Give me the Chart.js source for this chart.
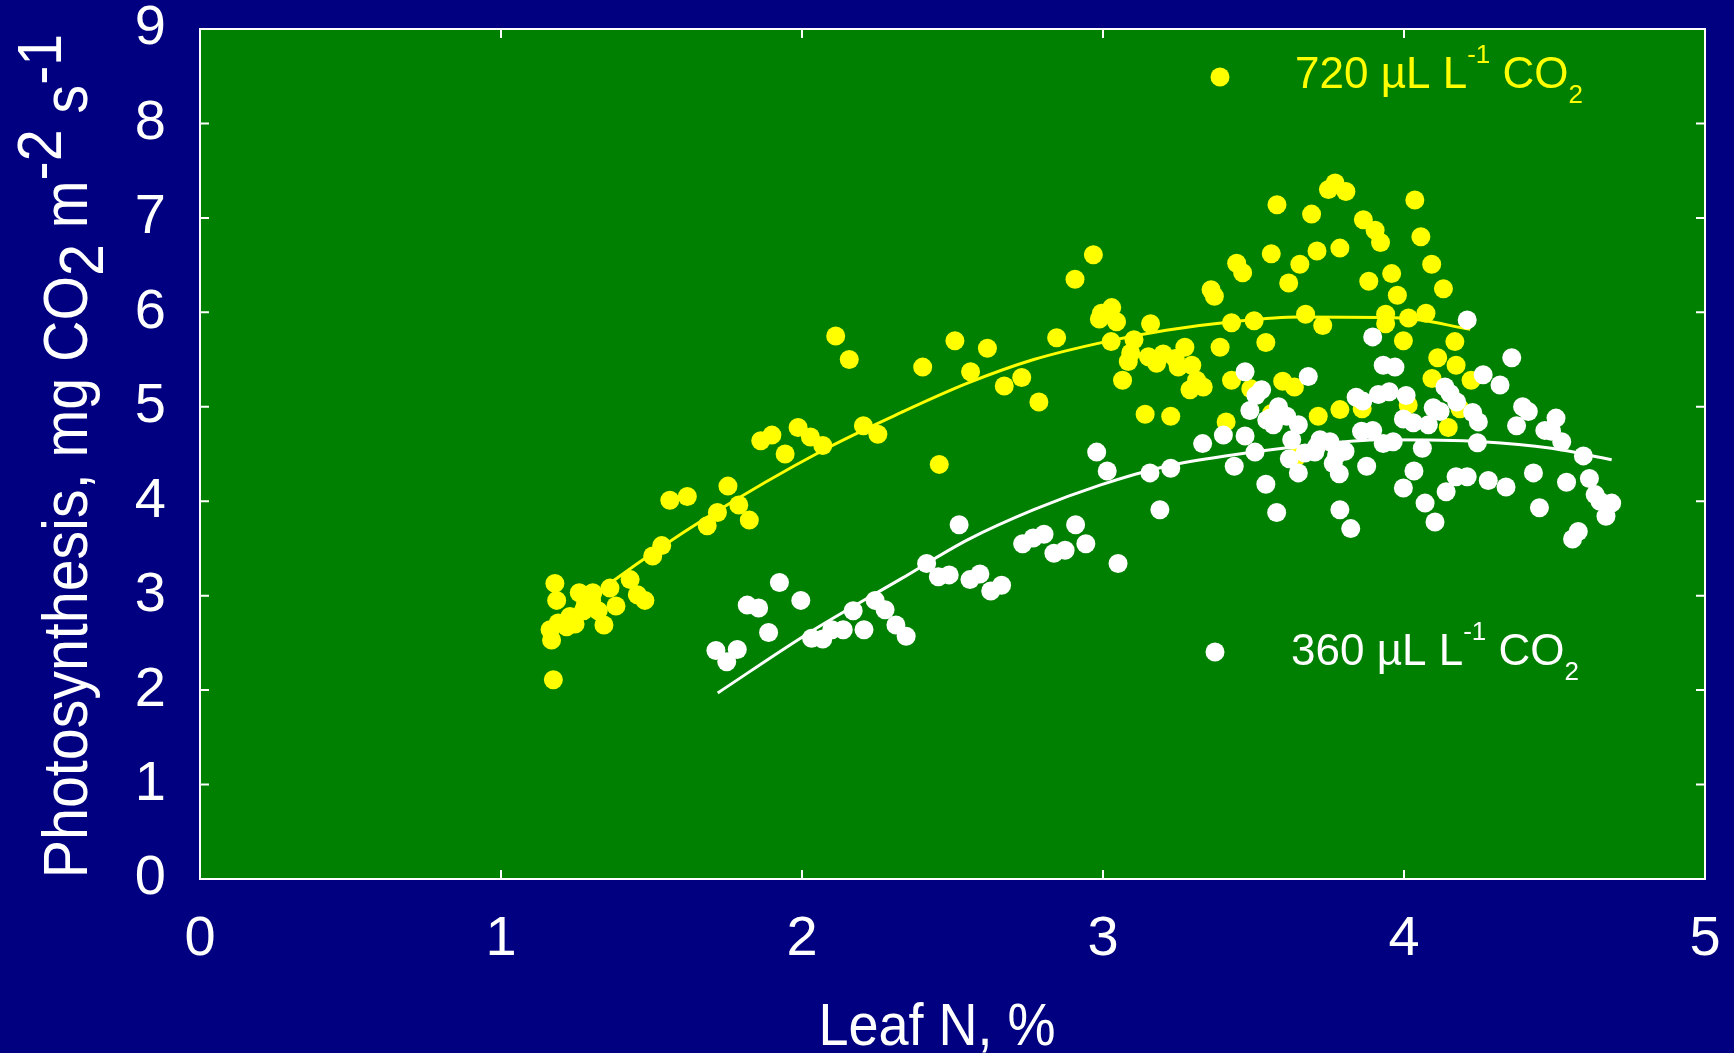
<!DOCTYPE html>
<html><head><meta charset="utf-8">
<script src="https://cdn.jsdelivr.net/npm/chart.js@4/dist/chart.umd.min.js"></script>
<style>html,body{margin:0;padding:0;background:#000080;overflow:hidden}canvas{display:block}</style>
</head><body><canvas id="c" width="1734" height="1053"></canvas>
<script>
// ---- data ----
const xTickLabels = [0, 1, 2, 3, 4, 5];
const yTickLabels = [0, 1, 2, 3, 4, 5, 6, 7, 8, 9];
const xTitle = 'Leaf N, %';
const yTitleParts = [['Photosynthesis, mg CO', 0], ['2', 1], [' m', 0], ['-2', -1], [' s', 0], ['-1', -1]];
const legend720Parts = [['720 µL L', 0], ['-1', -1], [' CO', 0], ['2', 1]];
const legend360Parts = [['360 µL L', 0], ['-1', -1], [' CO', 0], ['2', 1]];

const co2_720_N = [1.179,1.185,1.26,1.305,1.362,1.429,1.453,1.478,1.382,1.342,
 1.323,1.274,1.229,1.246,1.218,1.19,1.163,1.168,1.174,1.279,
 1.301,1.504,1.534,1.561,1.619,1.685,1.719,1.754,1.79,1.825,
 1.863,1.90,1.944,1.987,2.028,2.069,2.112,2.157,2.204,2.252,
 2.401,2.456,2.508,2.56,2.616,2.672,2.73,2.787,2.846,2.907,
 2.968,2.988,2.995,3.029,3.045,3.027,3.103,3.092,3.084,3.065,
 3.14,3.158,3.151,3.178,3.20,3.24,3.25,3.272,3.295,3.311,
 3.333,3.289,3.225,3.359,3.37,3.389,3.409,3.427,3.427,3.444,
 3.464,3.491,3.502,3.541,3.559,3.578,3.597,3.617,3.636,3.654,
 3.673,3.693,3.711,3.715,3.73,3.749,3.771,3.787,3.787,3.807,
 3.861,3.865,3.883,3.904,3.922,3.939,3.939,3.959,3.978,3.998,
 4.014,4.015,4.036,4.056,4.073,4.092,4.093,4.112,4.131,4.147,
 4.169,4.173,4.186,4.223,3.643,3.56];
const co2_720_P = [3.13,2.95,3.03,3.03,3.08,3.17,3.01,2.95,2.89,2.69,
 2.84,2.84,2.78,2.70,2.67,2.71,2.64,2.53,2.11,2.89,
 2.95,3.42,3.53,4.01,4.05,3.74,3.88,4.16,3.96,3.80,
 4.64,4.70,4.50,4.78,4.68,4.59,5.75,5.50,4.80,4.71,
 5.42,4.39,5.70,5.37,5.62,5.22,5.31,5.05,5.73,6.35,
 6.61,5.93,5.99,6.05,5.90,5.69,5.71,5.57,5.48,5.28,
 4.92,5.88,5.53,5.46,5.56,5.51,5.42,5.63,5.44,5.28,
 5.21,5.18,4.90,6.24,6.17,5.63,4.84,5.89,5.28,6.52,
 6.42,5.19,5.91,5.68,6.62,7.14,5.27,6.31,5.21,6.51,
 5.98,7.04,6.65,4.90,5.86,7.30,7.37,6.68,4.97,7.28,
 4.98,6.98,6.33,6.87,6.74,5.98,5.88,6.41,6.18,5.70,
 5.02,5.94,7.19,6.80,5.99,6.51,5.30,5.52,6.25,4.78,
 5.69,5.44,4.98,5.28,4.47,4.93];

const co2_360_N = [1.714,1.785,1.75,1.925,1.818,1.856,1.996,1.889,2.032,2.069,
 2.099,2.137,2.17,2.206,2.243,2.276,2.312,2.346,2.414,2.453,
 2.489,2.522,2.558,2.591,2.627,2.663,2.733,2.768,2.804,2.837,
 2.874,2.909,2.943,2.979,3.014,3.05,3.156,3.189,3.225,3.331,
 3.40,3.436,3.472,3.472,3.488,3.505,3.508,3.527,3.541,3.544,
 3.566,3.577,3.583,3.61,3.619,3.627,3.649,3.649,3.671,3.682,
 3.704,3.71,3.721,3.754,3.765,3.785,3.787,3.797,3.804,3.823,
 3.841,3.859,3.863,3.876,3.896,3.896,3.915,3.931,3.931,3.951,
 3.964,3.97,3.998,3.998,4.007,4.031,4.033,4.061,4.07,4.081,
 4.097,4.103,4.12,4.136,4.14,4.153,4.173,4.175,4.21,4.21,
 4.228,4.244,4.247,4.263,4.28,4.319,4.339,4.358,4.374,4.394,
 4.413,4.43,4.45,4.468,4.49,4.505,4.524,4.54,4.56,4.579,
 4.596,4.616,4.635,4.651,4.671,4.69,3.555,3.776];
const co2_360_P = [2.42,2.43,2.30,3.14,2.90,2.87,2.95,2.61,2.55,2.54,
 2.64,2.64,2.84,2.64,2.95,2.85,2.69,2.57,3.34,3.20,
 3.22,3.75,3.17,3.23,3.05,3.11,3.55,3.61,3.65,3.45,
 3.48,3.75,3.55,4.52,4.32,3.34,4.30,3.91,4.35,4.61,
 4.70,4.37,4.69,5.37,4.96,4.52,5.12,5.18,4.18,4.86,
 4.81,3.88,5.00,4.90,4.45,4.65,4.30,4.81,4.51,5.32,
 4.52,4.58,4.65,4.63,4.40,4.29,3.91,4.54,4.53,3.71,
 5.10,4.74,5.06,4.37,5.74,4.75,5.13,5.44,4.61,5.16,
 4.63,5.42,4.87,4.14,5.12,4.83,4.32,4.56,3.98,4.81,
 4.99,3.78,4.95,5.21,4.10,5.14,4.26,5.05,4.26,5.92,
 4.94,4.62,4.84,5.34,4.22,5.23,4.15,5.52,4.80,5.00,
 4.95,4.30,3.93,4.75,4.74,4.88,4.63,4.20,3.60,3.68,
 4.48,4.24,4.07,4.00,3.84,3.98,4.88,4.49];

// fitted curves
const fit720_N = [1.18,1.37,1.69,2.07,2.33,2.55,2.77,3.01,3.21,3.43,3.65,3.99,4.22];
const fit720_P = [2.68,3.15,3.84,4.54,4.94,5.25,5.50,5.69,5.81,5.90,5.95,5.94,5.82];
const fit360_N = [1.72,2.02,2.33,2.55,2.77,2.99,3.21,3.43,3.65,3.93,4.26,4.49,4.69];
const fit360_P = [1.97,2.60,3.18,3.59,3.91,4.17,4.37,4.49,4.58,4.65,4.63,4.56,4.44];

// ---- styling ----
const FAMILY = "'Liberation Sans', Arial, Helvetica, sans-serif";
const NAVY = '#000080', GREEN = '#008000', YELLOW = '#FFFF00', WHITE = '#FFFFFF';

const pts = (xs, ys) => xs.map((x, i) => ({x: x, y: ys[i]}));

function drawRich(ctx, x, y, parts, size, subSize, supShift, subShift, align) {
  const items = parts.map(([t, k]) => {
    const s = k === 0 ? size : subSize;
    ctx.font = s + 'px ' + FAMILY;
    return {t, k, s, w: ctx.measureText(t).width};
  });
  const total = items.reduce((a, b) => a + b.w, 0);
  let cx = align === 'center' ? x - total / 2 : x;
  ctx.textAlign = 'left';
  ctx.textBaseline = 'alphabetic';
  items.forEach(it => {
    ctx.font = it.s + 'px ' + FAMILY;
    const dy = it.k < 0 ? -supShift : (it.k > 0 ? subShift : 0);
    ctx.fillText(it.t, cx, y + dy);
    cx += it.w;
  });
}

const decor = {
  id: 'decor',
  beforeDraw(chart) {
    const {ctx, chartArea: a} = chart;
    ctx.save();
    ctx.fillStyle = NAVY;
    ctx.fillRect(0, 0, chart.width, chart.height);
    ctx.fillStyle = GREEN;
    ctx.fillRect(a.left, a.top, a.right - a.left, a.bottom - a.top);
    ctx.restore();
  },
  afterDraw(chart) {
    const {ctx, chartArea: a, scales} = chart;
    ctx.save();
    // frame
    ctx.strokeStyle = WHITE;
    ctx.lineWidth = 2;
    ctx.strokeRect(a.left, a.top, a.right - a.left, a.bottom - a.top);
    // inner ticks on all sides
    const TL = 9;
    ctx.beginPath();
    xTickLabels.forEach(v => {
      const p = scales.x.getPixelForValue(v);
      ctx.moveTo(p, a.bottom); ctx.lineTo(p, a.bottom - TL);
      ctx.moveTo(p, a.top); ctx.lineTo(p, a.top + TL);
    });
    yTickLabels.forEach(v => {
      const p = scales.y.getPixelForValue(v);
      ctx.moveTo(a.left, p); ctx.lineTo(a.left + TL, p);
      ctx.moveTo(a.right, p); ctx.lineTo(a.right - TL, p);
    });
    ctx.stroke();

    // x title
    ctx.fillStyle = WHITE;
    ctx.save();
    ctx.translate(937, 1045);
    ctx.scale(0.9, 1);
    drawRich(ctx, 0, 0, [[xTitle, 0]], 60, 60, 0, 0, 'center');
    ctx.restore();

    // y title (rotated)
    ctx.save();
    ctx.translate(87, 456);
    ctx.rotate(-Math.PI / 2);
    ctx.scale(0.91, 1);
    drawRich(ctx, 0, 0, yTitleParts, 63, 63, 26, 16, 'center');
    ctx.restore();

    // legend
    ctx.fillStyle = YELLOW;
    ctx.beginPath(); ctx.arc(1220, 77, 9.5, 0, Math.PI * 2); ctx.fill();
    drawRich(ctx, 1295, 88, legend720Parts, 44, 26, 25, 15, 'left');
    ctx.fillStyle = WHITE;
    ctx.beginPath(); ctx.arc(1215, 652, 9.5, 0, Math.PI * 2); ctx.fill();
    drawRich(ctx, 1291, 665, legend360Parts, 44, 26, 25, 15, 'left');
    ctx.restore();
  }
};

const tickFont = {family: FAMILY, size: 56};
const noPad = s => { s.paddingTop = 0; s.paddingBottom = 0; s.paddingLeft = 0; s.paddingRight = 0; };

new Chart(document.getElementById('c'), {
  type: 'scatter',
  data: {
    datasets: [
      {label: '360 fit', data: pts(fit360_N, fit360_P), showLine: true, borderColor: WHITE, borderWidth: 3,
       pointRadius: 0, cubicInterpolationMode: 'monotone', order: 0},
      {label: '360 µL L-1 CO2', data: pts(co2_360_N, co2_360_P), backgroundColor: WHITE, borderWidth: 0,
       pointRadius: 9.5, order: 1},
      {label: '720 fit', data: pts(fit720_N, fit720_P), showLine: true, borderColor: YELLOW, borderWidth: 3,
       pointRadius: 0, cubicInterpolationMode: 'monotone', order: 2},
      {label: '720 µL L-1 CO2', data: pts(co2_720_N, co2_720_P), backgroundColor: YELLOW, borderWidth: 0,
       pointRadius: 9.5, order: 3}
    ]
  },
  options: {
    responsive: false,
    animation: false,
    events: [],
    layout: {padding: {left: 0, top: 29, right: 29, bottom: 0}},
    plugins: {legend: {display: false}, tooltip: {enabled: false}},
    scales: {
      x: {
        type: 'linear', min: 0, max: 5,
        grid: {display: false, drawTicks: false},
        border: {display: false},
        ticks: {stepSize: 1, color: WHITE, font: tickFont, padding: 27, maxRotation: 0,
                callback: v => xTickLabels.includes(v) ? String(v) : ''},
        afterFit: s => { s.height = 174; noPad(s); }
      },
      y: {
        type: 'linear', min: 0, max: 9,
        grid: {display: false, drawTicks: false},
        border: {display: false},
        ticks: {stepSize: 1, color: WHITE, font: tickFont, padding: 34,
                callback: v => yTickLabels.includes(v) ? String(v) : ''},
        afterFit: s => { s.width = 200; noPad(s); }
      }
    }
  },
  plugins: [decor]
});
</script>
</body></html>
